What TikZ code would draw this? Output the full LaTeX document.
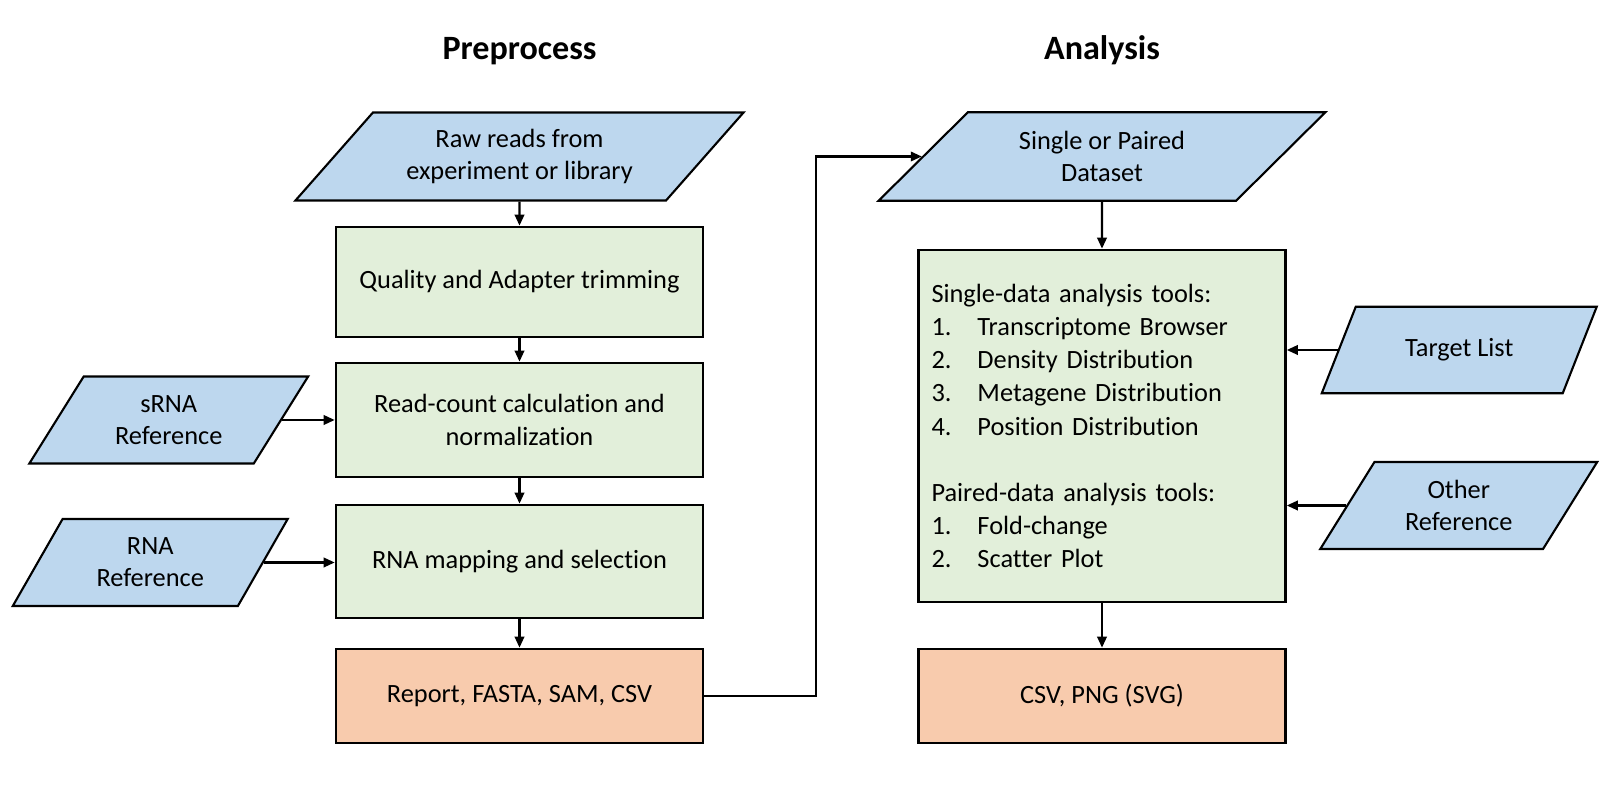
\documentclass[tikz,border=0pt]{standalone}
\usepackage{fontspec}
\setmainfont{Carlito}[Ligatures=NoCommon]
\usetikzlibrary{positioning, shapes.geometric, arrows.meta, calc}
\definecolor{inblue}{HTML}{BDD7EE}
\definecolor{stepgreen}{HTML}{E2EFDA}
\definecolor{outorange}{HTML}{F8CBAD}
\newcommand{\toolitem}[2]{\makebox[0.92cm][l]{#1}#2}

\begin{document}
\begin{tikzpicture}[font=\fontsize{15}{18.3}\selectfont,
  io/.style={trapezium, trapezium stretches=true, draw=black, line width=1.2pt, fill=inblue, align=center, inner sep=2pt},
  stepbox/.style={rectangle, draw=black, line width=1.5pt, fill=stepgreen, minimum width=7.34cm, align=center},
  outbox/.style={rectangle, draw=black, line width=1.5pt, fill=outorange, minimum width=7.34cm, minimum height=1.88cm, align=center},
  flow/.style={-{Triangle[length=2.2mm, width=1.9mm]}, line width=1.2pt},
  heading/.style={font=\fontsize{19.4}{23}\selectfont\bfseries, anchor=base}
]
  \useasboundingbox (0,0) rectangle (32.32,16);

  % preprocess column
  \node[heading] (pretitle) at (10.39,14.81) {Preprocess};
  \node[io, trapezium left angle=45, trapezium right angle=135, minimum width=8.98cm, minimum height=1.76cm] (raw) at (10.39,12.87) {Raw reads from\\experiment or library};
  \node[stepbox, minimum height=2.2cm] (quality) at (10.39,10.36) {Quality and Adapter trimming};
  \node[stepbox, minimum height=2.28cm] (readcount) at (10.39,7.6) {Read-count calculation and\\normalization};
  \node[stepbox, minimum height=2.26cm] (mapping) at (10.39,4.77) {RNA mapping and selection};
  \node[outbox] (report) at (10.39,2.08) {Report, FASTA, SAM, CSV};
  \node[io, trapezium left angle=57, trapezium right angle=123, minimum width=5.58cm, minimum height=1.74cm] (srna) at (3.375,7.6) {sRNA\\Reference};
  \node[io, trapezium left angle=60, trapezium right angle=120, minimum width=5.5cm, minimum height=1.74cm] (rna) at (3.005,4.75) {RNA\\Reference};

  % analysis column
  \node[heading] (antitle) at (22.04,14.81) {Analysis};
  \node[io, trapezium left angle=45, trapezium right angle=135, minimum width=8.94cm, minimum height=1.77cm] (dataset) at (22.04,12.87) {Single or Paired\\Dataset};
  \node[stepbox, minimum height=7.04cm, text width=6.82cm, align=left, inner xsep=0.26cm,
        font=\fontsize{15}{18.8}\selectfont] (analysis) at (22.04,7.48) {Single-data analysis tools:\\
    \toolitem{1.}{Transcriptome Browser}\\
    \toolitem{2.}{Density Distribution}\\
    \toolitem{3.}{Metagene Distribution}\\
    \toolitem{4.}{Position Distribution}\\[18.8pt]
    Paired-data analysis tools:\\
    \toolitem{1.}{Fold-change}\\
    \toolitem{2.}{Scatter Plot}};
  \node[outbox] (csvout) at (22.04,2.08) {CSV, PNG (SVG)};
  \node[io, trapezium left angle=57.5, trapezium right angle=122.5, minimum width=5.54cm, minimum height=1.73cm] (target) at (29.185,9.0) {Target List};
  \node[io, trapezium left angle=57.5, trapezium right angle=122.5, minimum width=5.54cm, minimum height=1.74cm] (otherref) at (29.175,5.89) {Other\\Reference};

  % connectors
  \draw[flow] (raw) -- (quality);
  \draw[flow] (quality) -- (readcount);
  \draw[flow] (readcount) -- (mapping);
  \draw[flow] (mapping) -- (report);
  \draw[flow] (srna.east) -- (srna.east -| readcount.west);
  \draw[flow] (rna.east) -- (rna.east -| mapping.west);
  \draw[flow] (report.east) -- ++(2.23,0) |- (dataset.west);
  \draw[flow] (dataset) -- (analysis);
  \draw[flow] (analysis) -- (csvout);
  \draw[flow] (target.west) -- (target.west -| analysis.east);
  \draw[flow] (otherref.west) -- (otherref.west -| analysis.east);
\end{tikzpicture}
\end{document}
